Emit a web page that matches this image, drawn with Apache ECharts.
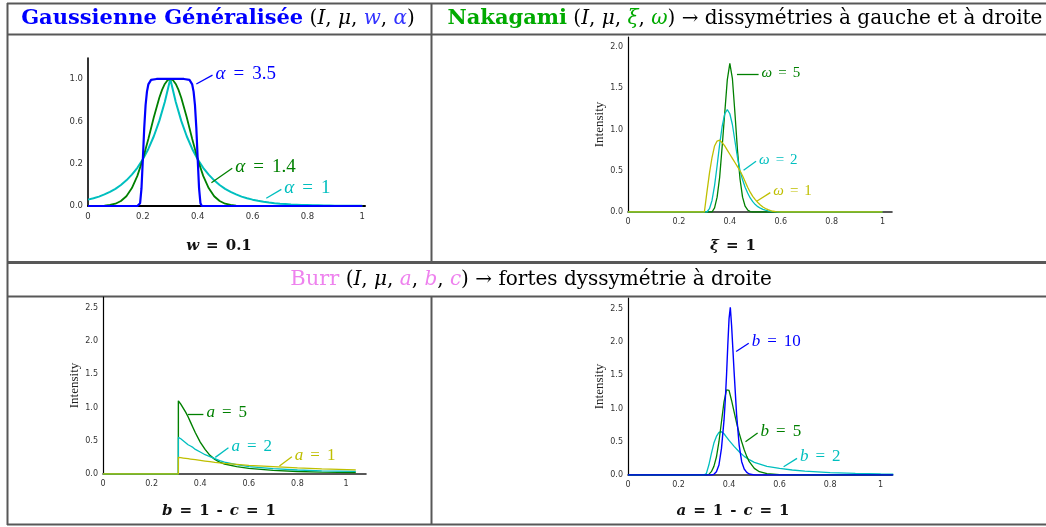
<!DOCTYPE html>
<html><head><meta charset="utf-8">
<script src="https://cdn.jsdelivr.net/npm/echarts@6/dist/echarts.min.js"></script>
<style>html,body{margin:0;padding:0;background:#fff;}#c{width:1046px;height:527px;}</style>
</head><body><div id="c"></div>
<script>
// ---------- tick labels ----------
const xTickValues = [0, 0.2, 0.4, 0.6, 0.8, 1];
const xTickLabels = ['0', '0.2', '0.4', '0.6', '0.8', '1'];
const ggYTickValues = [0, 0.3333, 0.6667, 1];
const ggYTickLabels = ['0.0', '0.2', '0.6', '1.0'];
const nakYTickValues = [0, 0.5, 1, 1.5, 2];
const nakYTickLabels = ['0.0', '0.5', '1.0', '1.5', '2.0'];
const burrYTickValues = [0, 0.5, 1, 1.5, 2, 2.5];
const burrYTickLabels = ['0.0', '0.5', '1.0', '1.5', '2.0', '2.5'];

// ---------- Gaussienne généralisée (w = 0.1) ----------
const ggX = [0,0.02,0.04,0.06,0.08,0.1,0.12,0.14,0.16,0.18,0.2,0.22,0.24,0.26,0.28,0.3,0.32,0.34,0.36,0.38,0.4,0.42,0.44,0.46,0.48,0.5,0.52,0.54,0.56,0.58,0.6,0.62,0.64,0.66,0.68,0.7,0.72,0.74,0.76,0.78,0.8,0.82,0.84,0.86,0.88,0.9,0.92,0.94,0.96,0.98,1.0];
const ggAlpha1 = [0.050,0.061,0.074,0.091,0.111,0.135,0.165,0.202,0.247,0.301,0.368,0.449,0.549,0.670,0.819,1.0,0.819,0.670,0.549,0.449,0.368,0.301,0.247,0.202,0.165,0.135,0.111,0.091,0.074,0.061,0.050,0.041,0.033,0.027,0.022,0.018,0.015,0.012,0.010,0.008,0.007,0.006,0.005,0.004,0.003,0.002,0.002,0.002,0.001,0.001,0.001];
const ggAlpha14X = [0,0.04,0.06,0.08,0.1,0.12,0.14,0.16,0.18,0.2,0.22,0.24,0.26,0.27,0.28,0.29,0.3,0.31,0.32,0.33,0.34,0.36,0.38,0.4,0.42,0.44,0.46,0.48,0.5,0.52,0.54,0.56,0.58,1.0];
const ggAlpha14 = [0,0.001,0.003,0.008,0.018,0.039,0.077,0.141,0.237,0.368,0.527,0.698,0.852,0.914,0.961,0.99,1.0,0.99,0.961,0.914,0.852,0.698,0.527,0.368,0.237,0.141,0.077,0.039,0.018,0.008,0.003,0.001,0,0];
const ggAlpha35X = [0,0.17,0.18,0.185,0.19,0.195,0.2,0.205,0.21,0.215,0.22,0.23,0.25,0.3,0.35,0.37,0.38,0.385,0.39,0.395,0.4,0.405,0.41,0.415,0.42,0.43,1.0];
const ggAlpha35 = [0,0,0,0.0008,0.022,0.138,0.368,0.614,0.795,0.90,0.957,0.993,1,1,1,0.993,0.957,0.90,0.795,0.614,0.368,0.138,0.022,0.0008,0,0,0];

// ---------- Nakagami (xi = 1) ----------
const nakX = [0,0.30,0.31,0.32,0.33,0.34,0.35,0.36,0.37,0.38,0.39,0.40,0.41,0.42,0.43,0.44,0.45,0.46,0.47,0.48,0.49,0.50,0.51,0.52,0.53,0.54,0.55,0.56,0.57,0.58,0.59,0.60,1.0];
const nakOmega5 = [0,0,0,0,0,0.05,0.18,0.42,0.8,1.2,1.6,1.8,1.62,1.2,0.75,0.4,0.18,0.07,0.025,0.005,0,0,0,0,0,0,0,0,0,0,0,0,0];
const nakOmega2 = [0,0,0,0.04,0.14,0.32,0.56,0.82,1.04,1.19,1.24,1.19,1.06,0.86,0.66,0.5,0.39,0.3,0.23,0.17,0.125,0.09,0.065,0.046,0.032,0.022,0.014,0.008,0.004,0.002,0,0,0];
const nakOmega1 = [0,0,0.24,0.47,0.66,0.8,0.86,0.87,0.84,0.8,0.75,0.7,0.65,0.6,0.55,0.5,0.44,0.37,0.3,0.24,0.19,0.15,0.115,0.085,0.06,0.042,0.028,0.017,0.009,0.004,0.001,0,0];

// ---------- Burr, b = 1 - c = 1 ----------
const burrAX = [0,0.31,0.3101,0.32,0.33,0.34,0.35,0.36,0.37,0.38,0.40,0.42,0.44,0.46,0.48,0.50,0.55,0.60,0.70,0.80,0.90,1.04];
const burrA5 = [0,0,1.1,1.05,0.99,0.93,0.86,0.78,0.7,0.62,0.48,0.37,0.28,0.22,0.18,0.15,0.11,0.085,0.055,0.038,0.028,0.022];
const burrA2 = [0,0,0.55,0.53,0.5,0.47,0.44,0.42,0.4,0.37,0.33,0.29,0.26,0.23,0.2,0.18,0.14,0.11,0.08,0.06,0.048,0.04];
const burrA1 = [0,0,0.25,0.245,0.24,0.235,0.23,0.225,0.22,0.215,0.205,0.195,0.185,0.175,0.167,0.16,0.145,0.13,0.11,0.092,0.078,0.062];

// ---------- Burr, a = 1 - c = 1 ----------
const burrB10X = [0,0.33,0.34,0.35,0.36,0.37,0.38,0.385,0.39,0.395,0.40,0.405,0.41,0.415,0.42,0.43,0.44,0.45,0.46,0.47,0.48,0.50,1.05];
const burrB10 = [0,0,0.01,0.05,0.15,0.4,0.82,1.12,1.5,1.95,2.35,2.52,2.25,1.9,1.55,0.9,0.45,0.2,0.09,0.04,0.015,0,0];
const burrB5X = [0,0.31,0.32,0.33,0.34,0.35,0.36,0.37,0.38,0.39,0.395,0.40,0.41,0.42,0.43,0.44,0.45,0.46,0.47,0.48,0.50,0.52,0.55,0.60,0.65,1.05];
const burrB5 = [0,0,0.01,0.05,0.13,0.27,0.5,0.8,1.1,1.28,1.3,1.27,1.12,0.95,0.78,0.63,0.5,0.38,0.28,0.2,0.1,0.05,0.02,0.005,0,0];
const burrB2X = [0,0.30,0.31,0.32,0.33,0.34,0.35,0.36,0.37,0.38,0.39,0.40,0.42,0.44,0.46,0.48,0.50,0.55,0.60,0.65,0.70,0.80,0.90,1.00,1.05];
const burrB2 = [0,0,0.02,0.15,0.32,0.48,0.58,0.64,0.65,0.62,0.57,0.52,0.43,0.35,0.28,0.23,0.19,0.13,0.1,0.075,0.058,0.037,0.024,0.016,0.013];

// ---------- colours ----------
const C = { b: '#0000ff', g: '#008000', c: '#00bfbf', y: '#bfbf00' };

const SERIF = "Liberation Serif";
const HSERIF = "DejaVu Serif";
const SANS = "DejaVu Sans";

function pairs(xs, ys) { return xs.map((x, i) => [x, ys[i]]); }
function lookup(values, labels) {
  return function (v) {
    const i = values.findIndex(t => Math.abs(t - v) < 1e-3);
    return i >= 0 ? labels[i] : '';
  };
}
function mathRich(size, pad, color) {
  return {
    m: { fontFamily: SERIF, fontStyle: 'italic', fontSize: size, color: color },
    e: { fontFamily: SERIF, fontSize: size, color: color, padding: [0, pad, 0, pad] },
    t: { fontFamily: SERIF, fontSize: size, color: color }
  };
}
function curve(idx, name, xs, ys, color, width, ann, fontSize, pad) {
  const s = {
    type: 'line', name: name, xAxisIndex: idx, yAxisIndex: idx,
    data: pairs(xs, ys), showSymbol: false, symbol: 'none', smooth: false,
    lineStyle: { color: color, width: width }, itemStyle: { color: color },
    silent: true, animation: false
  };
  if (ann) {
    s.markLine = {
      silent: true, symbol: ['none', 'none'], animation: false,
      lineStyle: { color: color, width: 1.3, type: 'solid' },
      label: { show: false },
      emphasis: { disabled: true },
      data: [[{ coord: ann.from }, { coord: ann.to }]]
    };
    s.markPoint = {
      silent: true, animation: false, symbol: 'circle', symbolSize: 0,
      itemStyle: { color: 'rgba(0,0,0,0)' },
      label: {
        show: true, position: 'right', distance: 3, offset: [0, -1.5],
        formatter: '{m|' + ann.sym + '}{e|=}{t|' + ann.val + '}',
        rich: mathRich(fontSize, pad, color)
      },
      emphasis: { disabled: true },
      data: [{ coord: ann.to }]
    };
  }
  return s;
}

// annotation positions (data units)
const ggAnn = [
  { sym: 'α', val: '3.5', from: [0.395, 0.96], to: [0.454, 1.03] },
  { sym: 'α', val: '1.4', from: [0.45, 0.183], to: [0.526, 0.297] },
  { sym: 'α', val: '1', from: [0.65, 0.061], to: [0.705, 0.131] }
];
const nakAnn = [
  { sym: 'ω', val: '5', from: [0.428, 1.665], to: [0.513, 1.665] },
  { sym: 'ω', val: '2', from: [0.454, 0.505], to: [0.503, 0.615] },
  { sym: 'ω', val: '1', from: [0.507, 0.133], to: [0.559, 0.235] }
];
const burrAAnn = [
  { sym: 'a', val: '5', from: [0.349, 0.9], to: [0.413, 0.9] },
  { sym: 'a', val: '2', from: [0.462, 0.25], to: [0.516, 0.394] },
  { sym: 'a', val: '1', from: [0.726, 0.12], to: [0.777, 0.26] }
];
const burrBAnn = [
  { sym: 'b', val: '10', from: [0.428, 1.857], to: [0.478, 1.98] },
  { sym: 'b', val: '5', from: [0.465, 0.5], to: [0.513, 0.63] },
  { sym: 'b', val: '2', from: [0.616, 0.125], to: [0.669, 0.25] }
];

const grids = [
  { left: 88, top: 58, width: 277, height: 148 },
  { left: 628, top: 37, width: 264, height: 175 },
  { left: 103, top: 297, width: 263, height: 177 },
  { left: 628, top: 298, width: 264, height: 177 }
];
const xMax = [1.01, 1.037, 1.082, 1.045];
const yMax = [1.165, 2.12, 2.66, 2.66];
const yTicks = [ggYTickValues, nakYTickValues, burrYTickValues, burrYTickValues];
const yLabels = [ggYTickLabels, nakYTickLabels, burrYTickLabels, burrYTickLabels];

const xAxes = grids.map((g, i) => ({
  type: 'value', gridIndex: i, min: 0, max: xMax[i],
  axisLine: { show: true, onZero: false, lineStyle: { color: i === 0 ? '#000' : '#222', width: i === 0 ? 2 : 1.6 } },
  axisTick: { show: false },
  splitLine: { show: false },
  axisLabel: {
    customValues: xTickValues, formatter: lookup(xTickValues, xTickLabels),
    fontFamily: SANS, fontSize: i === 0 ? 8.5 : 8, color: '#333', margin: 6
  }
}));
const yAxes = grids.map((g, i) => ({
  type: 'value', gridIndex: i, min: 0, max: yMax[i],
  name: i === 0 ? '' : 'Intensity', nameLocation: 'middle', nameGap: 18, nameRotate: 90,
  nameTextStyle: { fontFamily: SERIF, fontSize: 13, color: '#222' },
  axisLine: { show: true, onZero: false, lineStyle: { color: '#000', width: i === 0 ? 1.6 : 1.2 } },
  axisTick: { show: false },
  splitLine: { show: false },
  axisLabel: {
    customValues: yTicks[i], formatter: lookup(yTicks[i], yLabels[i]),
    fontFamily: SANS, fontSize: i === 0 ? 8.5 : 8, color: '#333', margin: 5
  }
}));

const series = [
  curve(0, 'α = 1', ggX, ggAlpha1, C.c, 2, ggAnn[2], 19, 8),
  curve(0, 'α = 1.4', ggAlpha14X, ggAlpha14, C.g, 1.8, ggAnn[1], 19, 8),
  curve(0, 'α = 3.5', ggAlpha35X, ggAlpha35, C.b, 2.2, ggAnn[0], 19, 8),
  curve(1, 'ω = 5', nakX, nakOmega5, C.g, 1.3, nakAnn[0], 15, 6),
  curve(1, 'ω = 2', nakX, nakOmega2, C.c, 1.3, nakAnn[1], 15, 6),
  curve(1, 'ω = 1', nakX, nakOmega1, C.y, 1.3, nakAnn[2], 15, 6),
  curve(2, 'a = 5', burrAX, burrA5, C.g, 1.4, burrAAnn[0], 17, 7),
  curve(2, 'a = 2', burrAX, burrA2, C.c, 1.3, burrAAnn[1], 17, 7),
  curve(2, 'a = 1', burrAX, burrA1, C.y, 1.3, burrAAnn[2], 17, 7),
  curve(3, 'b = 2', burrB2X, burrB2, C.c, 1.3, burrBAnn[2], 17, 7),
  curve(3, 'b = 5', burrB5X, burrB5, C.g, 1.3, burrBAnn[1], 17, 7),
  curve(3, 'b = 10', burrB10X, burrB10, C.b, 1.4, burrBAnn[0], 17, 7)
];

// ---------- table frame and texts ----------
const LINE = '#585858';
function hline(y, x1, x2, w) { return { type: 'line', shape: { x1: x1, y1: y, x2: x2, y2: y }, style: { stroke: LINE, lineWidth: w || 2 }, silent: true }; }
function vline(x, y1, y2, w) { return { type: 'line', shape: { x1: x, y1: y1, x2: x, y2: y2 }, style: { stroke: LINE, lineWidth: w || 2 }, silent: true }; }

const hRich = {
  n: { fontFamily: HSERIF, fontSize: 20, fill: '#000' },
  i: { fontFamily: HSERIF, fontStyle: 'italic', fontSize: 20, fill: '#000' },
  bb: { fontFamily: HSERIF, fontWeight: 'bold', fontSize: 21, fill: '#0000ff' },
  ib: { fontFamily: HSERIF, fontStyle: 'italic', fontSize: 20, fill: '#3333ff' },
  bg: { fontFamily: HSERIF, fontWeight: 'bold', fontSize: 21, fill: '#00aa00' },
  ig: { fontFamily: HSERIF, fontStyle: 'italic', fontSize: 20, fill: '#00aa00' },
  bp: { fontFamily: HSERIF, fontSize: 21, fill: '#ee82ee' },
  ip: { fontFamily: HSERIF, fontStyle: 'italic', fontSize: 20, fill: '#ee82ee' }
};
const cRich = {
  bi: { fontFamily: HSERIF, fontStyle: 'italic', fontWeight: 'bold', fontSize: 15, fill: '#111' },
  bn: { fontFamily: HSERIF, fontWeight: 'bold', fontSize: 15, fill: '#111' },
  bo: { fontFamily: HSERIF, fontWeight: 'bold', fontSize: 15, fill: '#111', padding: [0, 7, 0, 7] }
};
function htext(x, y, text, rich) {
  return { type: 'text', x: x, y: y, silent: true,
    style: { text: text, rich: rich, align: 'center', verticalAlign: 'middle' } };
}

const graphic = [
  hline(3.5, 7, 1046), hline(34.5, 7, 1046),
  vline(7.5, 3, 525), vline(431.5, 3, 262), vline(431.5, 297, 525),
  hline(262.5, 7, 1046, 3), hline(296.5, 7, 1046), hline(524.5, 7, 1046),
  htext(218, 19, '{bb|Gaussienne Généralisée}{n| (}{i|I}{n|, }{i|μ}{n|, }{ib|w}{n|, }{ib|α}{n|)}', hRich),
  htext(745, 19, '{bg|Nakagami}{n| (}{i|I}{n|, }{i|μ}{n|, }{ig|ξ}{n|, }{ig|ω}{n|) → dissymétries à gauche et à droite}', hRich),
  htext(531, 280, '{bp|Burr}{n| (}{i|I}{n|, }{i|μ}{n|, }{ip|a}{n|, }{ip|b}{n|, }{ip|c}{n|) → fortes dyssymétrie à droite}', hRich),
  htext(219, 246, '{bi|w}{bo|=}{bn|0.1}', cRich),
  htext(733, 246, '{bi|ξ}{bo|=}{bn|1}', cRich),
  htext(219, 511, '{bi|b}{bo|=}{bn|1}{bo|-}{bi|c}{bo|=}{bn|1}', cRich),
  htext(733, 511, '{bi|a}{bo|=}{bn|1}{bo|-}{bi|c}{bo|=}{bn|1}', cRich)
];

const chart = echarts.init(document.getElementById('c'), null, { renderer: 'canvas' });
chart.setOption({
  animation: false,
  backgroundColor: '#fff',
  grid: grids,
  xAxis: xAxes,
  yAxis: yAxes,
  series: series,
  graphic: graphic
});
</script></body></html>
